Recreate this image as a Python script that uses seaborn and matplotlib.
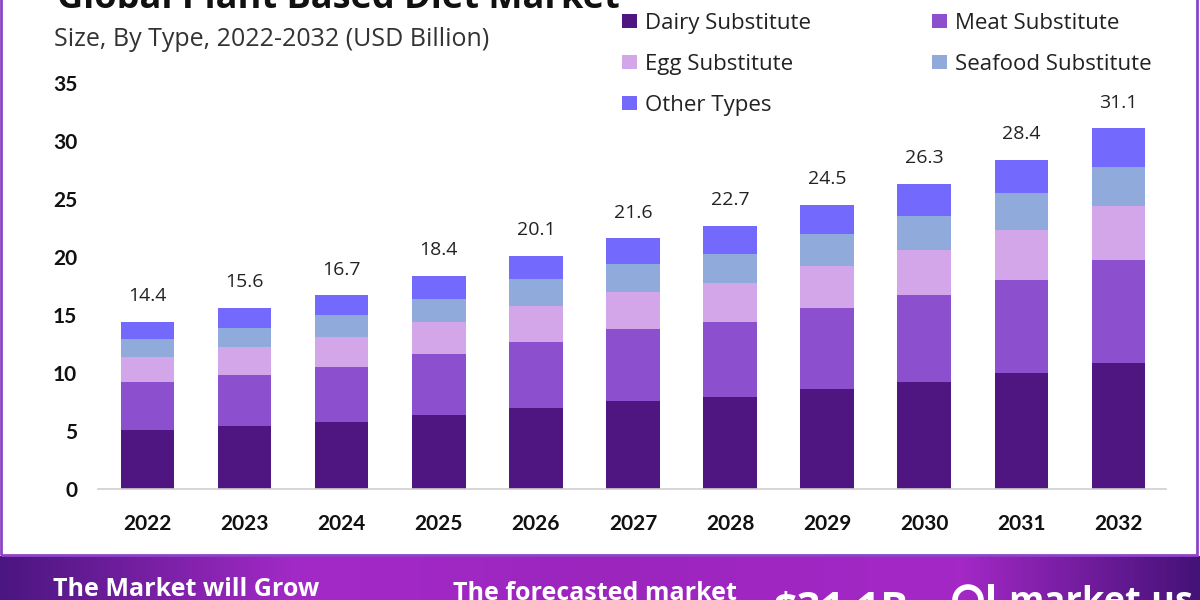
import numpy as np
import pandas as pd
import matplotlib
matplotlib.use("Agg")
import matplotlib.pyplot as plt
import seaborn as sns
from matplotlib.colors import LinearSegmentedColormap
from matplotlib.patches import Patch, Rectangle, Ellipse

# datos (USD Billion)
years = ['2022', '2023', '2024', '2025', '2026', '2027', '2028', '2029', '2030', '2031', '2032']
types = ['Dairy Substitute', 'Meat Substitute', 'Egg Substitute', 'Seafood Substitute', 'Other Types']
dairy = [5.1, 5.4, 5.8, 6.4, 7.0, 7.6, 7.9, 8.6, 9.2, 10.0, 10.9]
meat = [4.1, 4.4, 4.7, 5.2, 5.7, 6.2, 6.5, 7.0, 7.5, 8.0, 8.8]
egg = [2.2, 2.4, 2.6, 2.8, 3.1, 3.2, 3.4, 3.6, 3.9, 4.3, 4.7]
seafood = [1.5, 1.7, 1.9, 2.0, 2.3, 2.4, 2.5, 2.8, 2.9, 3.2, 3.4]
other = [1.5, 1.7, 1.7, 2.0, 2.0, 2.2, 2.4, 2.5, 2.8, 2.9, 3.3]
colores = ['#4f1580', '#8c4fce', '#d3a6ea', '#8faadb', '#7369fd']

sns.set_theme(style='white')
plt.rcParams['font.family'] = ['Open Sans', 'DejaVu Sans']

df = pd.DataFrame({'Year': years, types[0]: dairy, types[1]: meat,
                   types[2]: egg, types[3]: seafood, types[4]: other})
acum = df[types].cumsum(axis=1)
acum['Year'] = years
totales = acum[types[-1]].round(1)

W, H = 1200, 600
fig = plt.figure(figsize=(12, 6), dpi=100, facecolor='white')
ax = fig.add_axes([98 / W, 111 / H, 1068 / W, 406 / H])

# barras apiladas: se dibuja el acumulado de arriba hacia abajo
for t, c in reversed(list(zip(types, colores))):
    sns.barplot(data=acum, x='Year', y=t, color=c, saturation=1, width=0.551,
                linewidth=0, ax=ax)

ax.bar_label(ax.containers[0], labels=[f'{v:.1f}' for v in totales],
             padding=12, fontsize=14, color='#222222')

ax.set_xlim(-0.51, 10.49)
ax.set_ylim(0, 35)
ax.set_yticks(range(0, 36, 5))
ax.set_xlabel('')
ax.set_ylabel('')
ax.set_facecolor('white')
for s in ['left', 'top', 'right']:
    ax.spines[s].set_visible(False)
ax.spines['bottom'].set_color('#cfcfcf')
ax.spines['bottom'].set_linewidth(1.2)
ax.tick_params(axis='y', length=0, pad=15)
ax.tick_params(axis='x', length=0, pad=18)
for lab in ax.get_xticklabels() + ax.get_yticklabels():
    lab.set_family(['Lato', 'DejaVu Sans'])
    lab.set_fontweight('bold')
    lab.set_fontsize(15)
    lab.set_color('#111111')

# leyenda en dos columnas
h = [Patch(facecolor=c, edgecolor='none') for c in colores]
opts = dict(frameon=False, fontsize=16, handlelength=0.68, handleheight=0.63,
            handletextpad=0.36, labelspacing=0.9, borderpad=0, borderaxespad=0,
            loc='upper left', labelcolor='#222222')
fig.legend([h[0], h[2], h[4]], [types[0], types[2], types[4]],
           bbox_to_anchor=(622 / W, 1 - 13 / H), **opts)
fig.legend([h[1], h[3]], [types[1], types[3]],
           bbox_to_anchor=(932 / W, 1 - 13 / H), **opts)

# titulos
fig.text(57 / W, 1 - 8 / H, 'Global Plant Based Diet Market', fontsize=26,
         fontweight='bold', color='#111111', va='baseline')
fig.text(54 / W, 1 - 40 / H, 'Size, By Type, 2022-2032 (USD Billion)', fontsize=18,
         color='#333333', va='center')

# marco del panel
fig.patches.append(Rectangle((1 / W, (H - 555) / H), 1196 / W, 0.2 + 555 / H,
                             transform=fig.transFigure, fill=False,
                             edgecolor='#8e44c8', linewidth=2, zorder=5))

# banda inferior con degradado
banda = fig.add_axes([0, 0, 1, 44 / H])
cmap = LinearSegmentedColormap.from_list('banda', [(0, '#4b1680'), (0.25, '#a42ac8'),
                                                   (0.5, '#9c25be'), (0.8, '#a428c6'),
                                                   (1.0, '#451278')])
banda.imshow(np.linspace(0, 1, 256).reshape(1, -1), aspect='auto', cmap=cmap,
             extent=[0, 1, 0, 1])
banda.set_axis_off()

fig.text(53 / W, 1 - 596 / H, 'The Market will Grow', fontsize=18, fontweight='bold',
         color='white', va='baseline')
fig.text(453 / W, 1 - 600 / H, 'The forecasted market', fontsize=18, fontweight='bold',
         color='white', va='baseline')
fig.text(773 / W, 1 - 622 / H, '$31.1B', fontsize=30, fontweight='bold',
         color='white', va='baseline')
fig.text(1008 / W, 1 - 612 / H, 'market.us', fontsize=26, fontweight='bold',
         color='white', va='baseline')
fig.patches.append(Ellipse((968 / W, 1 - 600 / H), 26 / W, 26 / H, transform=fig.transFigure,
                           fill=False, edgecolor='white', linewidth=4, zorder=6))
fig.patches.append(Rectangle((988 / W, 1 - 600 / H), 6 / W, 16 / H, transform=fig.transFigure,
                             facecolor='white', edgecolor='none', zorder=6))

fig.savefig('out.png', dpi=100, facecolor='white')
